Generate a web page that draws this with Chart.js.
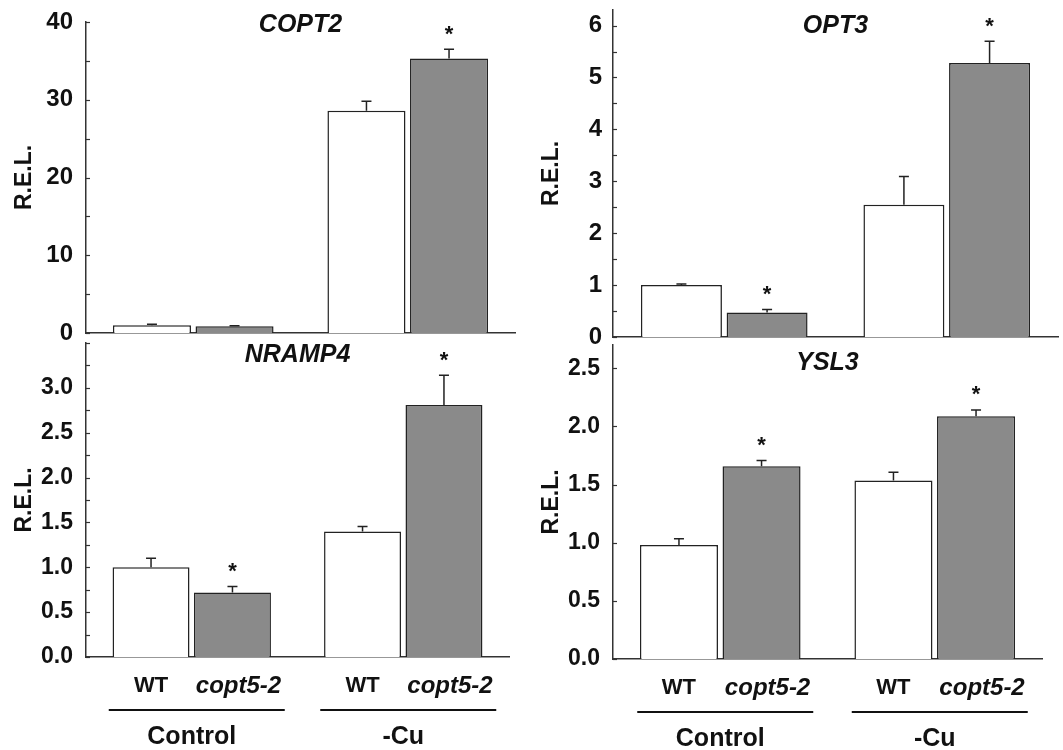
<!DOCTYPE html>
<html>
<head>
<meta charset="utf-8">
<script src="https://cdn.jsdelivr.net/npm/chart.js@4.4.1/dist/chart.umd.min.js"></script>
<style>
  html, body { margin: 0; padding: 0; background: #fff; }
  #wrap { position: relative; width: 1063px; height: 750px; overflow: hidden; }
  canvas { position: absolute; left: -40px; top: -40px; }
</style>
</head>
<body>
<div id="wrap">
  <canvas id="c0" width="1143" height="830"></canvas>
  <canvas id="c1" width="1143" height="830"></canvas>
  <canvas id="c2" width="1143" height="830"></canvas>
  <canvas id="c3" width="1143" height="830"></canvas>
</div>
<script>
// groups on the x axis, two genotypes per group
const GROUPS = ["Control", "-Cu"];
const GENOTYPES = ["WT", "copt5-2"];

// COPT2
const COPT2_WT = [1.0, 28.6];
const COPT2_WT_ERR = [0.12, 1.2];
const COPT2_MUT = [0.87, 35.3];
const COPT2_MUT_ERR = [0.06, 1.2];
const COPT2_SIG = [false, true];
const COPT2_TICKS = [0, 10, 20, 30, 40];

// OPT3
const OPT3_WT = [1.0, 2.55];
const OPT3_WT_ERR = [0.02, 0.54];
const OPT3_MUT = [0.47, 5.28];
const OPT3_MUT_ERR = [0.06, 0.42];
const OPT3_SIG = [true, true];
const OPT3_TICKS = [0, 1, 2, 3, 4, 5, 6];

// NRAMP4
const NRAMP4_WT = [1.0, 1.40];
const NRAMP4_WT_ERR = [0.10, 0.055];
const NRAMP4_MUT = [0.72, 2.81];
const NRAMP4_MUT_ERR = [0.065, 0.33];
const NRAMP4_SIG = [true, true];
const NRAMP4_TICKS = [0, 0.5, 1.0, 1.5, 2.0, 2.5, 3.0];

// YSL3
const YSL3_WT = [0.98, 1.535];
const YSL3_WT_ERR = [0.055, 0.07];
const YSL3_MUT = [1.657, 2.087];
const YSL3_MUT_ERR = [0.05, 0.055];
const YSL3_SIG = [true, true];
const YSL3_TICKS = [0, 0.5, 1.0, 1.5, 2.0, 2.5];

const FONT = "'Liberation Sans', Arial, Helvetica, sans-serif";
const INK = "#111";
const AXIS = "#333";
const OFF = 40;      // canvases overhang the page by this much on every side
const Y_W = 55;      // fixed width of the y scale box
Chart.defaults.font.family = FONT;

// panel frames (plot area in page pixels) + axis settings
const PANELS = [
  { id: "c0", title: "COPT2", wt: COPT2_WT, wtErr: COPT2_WT_ERR, mut: COPT2_MUT, mutErr: COPT2_MUT_ERR,
    sig: COPT2_SIG, ticks: COPT2_TICKS, max: 40, step: 5, dec: 0,
    area: { left: 86, top: 22, right: 515, bottom: 333 }, titleDy: 3, tickPad: 13, fs: 24, showX: false },
  { id: "c1", title: "OPT3", wt: OPT3_WT, wtErr: OPT3_WT_ERR, mut: OPT3_MUT, mutErr: OPT3_MUT_ERR,
    sig: OPT3_SIG, ticks: OPT3_TICKS, max: 6.3, step: 0.5, dec: 0,
    area: { left: 613, top: 10, right: 1058, bottom: 337 }, titleDy: 16, tickPad: 11, fs: 24, showX: false },
  { id: "c2", title: "NRAMP4", wt: NRAMP4_WT, wtErr: NRAMP4_WT_ERR, mut: NRAMP4_MUT, mutErr: NRAMP4_MUT_ERR,
    sig: NRAMP4_SIG, ticks: NRAMP4_TICKS, max: 3.5, step: 0.25, dec: 1,
    area: { left: 86, top: 343, right: 509, bottom: 657 }, titleDy: 12, tickPad: 13, fs: 23, showX: true },
  { id: "c3", title: "YSL3", wt: YSL3_WT, wtErr: YSL3_WT_ERR, mut: YSL3_MUT, mutErr: YSL3_MUT_ERR,
    sig: YSL3_SIG, ticks: YSL3_TICKS, max: 2.7, step: 0.5, dec: 1,
    area: { left: 613, top: 345, right: 1042, bottom: 659 }, titleDy: 18, tickPad: 13, fs: 23, showX: true },
];

// error bars, stars, inside ticks, titles and the group labels under the bottom panels
const figureExtras = {
  id: "figureExtras",
  afterDatasetsDraw(chart, args, opts) {
    const { ctx, chartArea: a, scales: { x, y } } = chart;
    ctx.save();

    // inside tick marks on the y axis
    ctx.strokeStyle = AXIS;
    ctx.lineWidth = 1.2;
    y.ticks.forEach((t) => {
      const py = Math.round(y.getPixelForValue(t.value)) + 0.5;
      ctx.beginPath();
      ctx.moveTo(a.left, py);
      ctx.lineTo(a.left + 4, py);
      ctx.stroke();
    });

    // error bars + significance stars
    chart.data.datasets.forEach((ds, d) => {
      const meta = chart.getDatasetMeta(d);
      meta.data.forEach((bar, i) => {
        const top = y.getPixelForValue(ds.data[i] + opts.errs[d][i]);
        ctx.strokeStyle = "#222";
        ctx.lineWidth = 1.5;
        ctx.beginPath();
        ctx.moveTo(bar.x, bar.y);
        ctx.lineTo(bar.x, top);
        ctx.moveTo(bar.x - 5, top);
        ctx.lineTo(bar.x + 5, top);
        ctx.stroke();
        if (opts.sig[d][i]) {
          ctx.fillStyle = INK;
          ctx.font = `bold 22px ${FONT}`;
          ctx.textAlign = "center";
          ctx.textBaseline = "alphabetic";
          ctx.fillText("*", bar.x, top - 21 + 12.5);
        }
      });
    });

    // panel title
    ctx.fillStyle = INK;
    ctx.font = `italic bold 25px ${FONT}`;
    ctx.textAlign = "center";
    ctx.textBaseline = "middle";
    ctx.fillText(opts.title, (a.left + a.right) / 2, a.top + opts.titleDy);

    // y axis title
    ctx.save();
    ctx.translate(a.left - 61, (a.top + a.bottom) / 2);
    ctx.rotate(-Math.PI / 2);
    ctx.font = `bold 23px ${FONT}`;
    ctx.fillText("R.E.L.", 0, 0);
    ctx.restore();

    if (opts.showX) {
      chart.data.datasets.forEach((ds, d) => {
        chart.getDatasetMeta(d).data.forEach((bar) => {
          ctx.font = d === 0 ? `bold 22px ${FONT}` : `italic bold 24px ${FONT}`;
          ctx.fillText(GENOTYPES[d], bar.x + (d === 0 ? 0 : 6), a.bottom + 29);
        });
      });
      GROUPS.forEach((g, i) => {
        const cx = x.getPixelForValue(i);
        ctx.strokeStyle = INK;
        ctx.lineWidth = 2;
        ctx.beginPath();
        ctx.moveTo(cx + 5 - 88, a.bottom + 53);
        ctx.lineTo(cx + 5 + 88, a.bottom + 53);
        ctx.stroke();
        ctx.font = `bold 25px ${FONT}`;
        ctx.fillText(g, cx, a.bottom + 80);
      });
    }
    ctx.restore();
  },
};

PANELS.forEach((p) => {
  const fmt = (v) => {
    const hit = p.ticks.find((t) => Math.abs(t - v) < 1e-6);
    return hit === undefined ? "" : hit.toFixed(p.dec);
  };
  const W = 1063 + 2 * OFF, H = 750 + 2 * OFF;
  new Chart(document.getElementById(p.id), {
    type: "bar",
    data: {
      labels: GROUPS,
      datasets: [
        { label: GENOTYPES[0], data: p.wt, backgroundColor: "#ffffff", borderColor: "#222", borderWidth: 1.5 },
        { label: GENOTYPES[1], data: p.mut, backgroundColor: "#8a8a8a", borderColor: "#222", borderWidth: 1.5 },
      ],
    },
    options: {
      responsive: false,
      animation: false,
      events: [],
      categoryPercentage: 0.77,
      barPercentage: 0.945,
      layout: {
        padding: {
          left: p.area.left + OFF - Y_W,
          top: p.area.top + OFF,
          right: W - (p.area.right + OFF),
          bottom: H - (p.area.bottom + OFF),
        },
      },
      scales: {
        x: {
          afterFit: (s) => { s.height = 0; },
          grid: { display: false, drawTicks: false },
          border: { display: true, color: AXIS, width: 1.5 },
          ticks: { display: false },
        },
        y: {
          min: 0,
          max: p.max,
          afterFit: (s) => { s.width = Y_W; },
          grid: { display: false, drawTicks: false },
          border: { display: true, color: AXIS, width: 1.5 },
          ticks: {
            stepSize: p.step,
            includeBounds: false,
            autoSkip: false,
            padding: p.tickPad,
            color: INK,
            font: { size: p.fs, weight: "bold" },
            callback: fmt,
          },
        },
      },
      plugins: {
        legend: { display: false },
        tooltip: { enabled: false },
        figureExtras: {
          title: p.title,
          errs: [p.wtErr, p.mutErr],
          sig: [[false, false], p.sig],
          titleDy: p.titleDy,
          showX: p.showX,
        },
      },
    },
    plugins: [figureExtras],
  });
});
</script>
</body>
</html>
